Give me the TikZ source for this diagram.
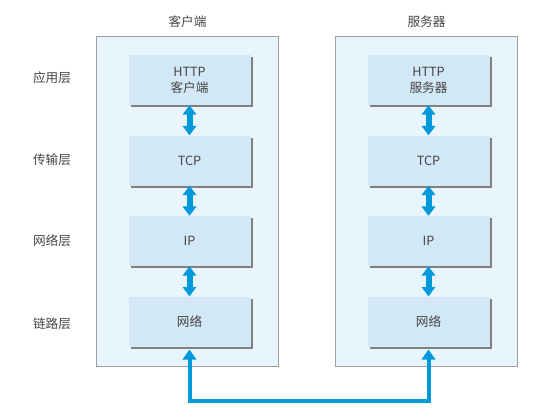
\documentclass[tikz,border=0pt]{standalone}
\usepackage{fontspec}
\setmainfont{Noto Sans CJK SC}
\usetikzlibrary{arrows.meta,positioning,shadows}

\definecolor{panelblue}{RGB}{233,245,252}
\definecolor{layerblue}{RGB}{210,232,246}
\definecolor{linkblue}{RGB}{0,153,220}
\definecolor{textgray}{RGB}{70,70,70}

\begin{document}
\begin{tikzpicture}[
  x=0.75pt, y=-0.75pt,
  font=\fontsize{9.5}{12}\selectfont, text=textgray,
  panel/.style={draw=gray!75, fill=panelblue, line width=0.6pt, minimum width=136pt, minimum height=248pt},
  layer/.style={fill=layerblue, align=center, minimum width=91.5pt, minimum height=37.5pt,
    drop shadow={shadow xshift=1.8pt, shadow yshift=-1.8pt, fill=gray, opacity=1}},
  title/.style={inner sep=1pt},
  updown/.style={{Triangle[width=10pt,length=7pt]}-{Triangle[width=10pt,length=7pt]}, line width=4.5pt, draw=linkblue},
  link/.style={{Triangle[width=10pt,length=7.5pt]}-{Triangle[width=10pt,length=7.5pt]}, line width=3pt, draw=linkblue}
]
  \useasboundingbox (0,0) rectangle (540,419);

  \node[panel] (client) at (187.5,201.5) {};
  \node[panel] (server) at (426.5,201.5) {};
  \node[title] (clienttitle) at (187.5,22) {客户端};
  \node[title] (servertitle) at (426.5,22) {服务器};

  \node[layer] (chttp) at (189.5,80) {HTTP\\客户端};
  \node[layer, below=22.5pt of chttp] (ctcp) {TCP};
  \node[layer, below=22.5pt of ctcp] (cip) {IP};
  \node[layer, below=22.5pt of cip] (cnet) {网络};

  \node[layer] (shttp) at (428.5,80) {HTTP\\服务器};
  \node[layer, below=22.5pt of shttp] (stcp) {TCP};
  \node[layer, below=22.5pt of stcp] (sip) {IP};
  \node[layer, below=22.5pt of sip] (snet) {网络};

  \node (applabel) at (52,78) {应用层};
  \node (translabel) at (52,160) {传输层};
  \node (netlabel) at (52,241) {网络层};
  \node (linklabel) at (52,324) {链路层};

  \draw[updown] (chttp) -- (ctcp);
  \draw[updown] (ctcp) -- (cip);
  \draw[updown] (cip) -- (cnet);
  \draw[updown] (shttp) -- (stcp);
  \draw[updown] (stcp) -- (sip);
  \draw[updown] (sip) -- (snet);

  \draw[link] ([yshift=-2pt]cnet.south) -- ++(0,51) -| ([yshift=-2pt]snet.south);
\end{tikzpicture}
\end{document}
